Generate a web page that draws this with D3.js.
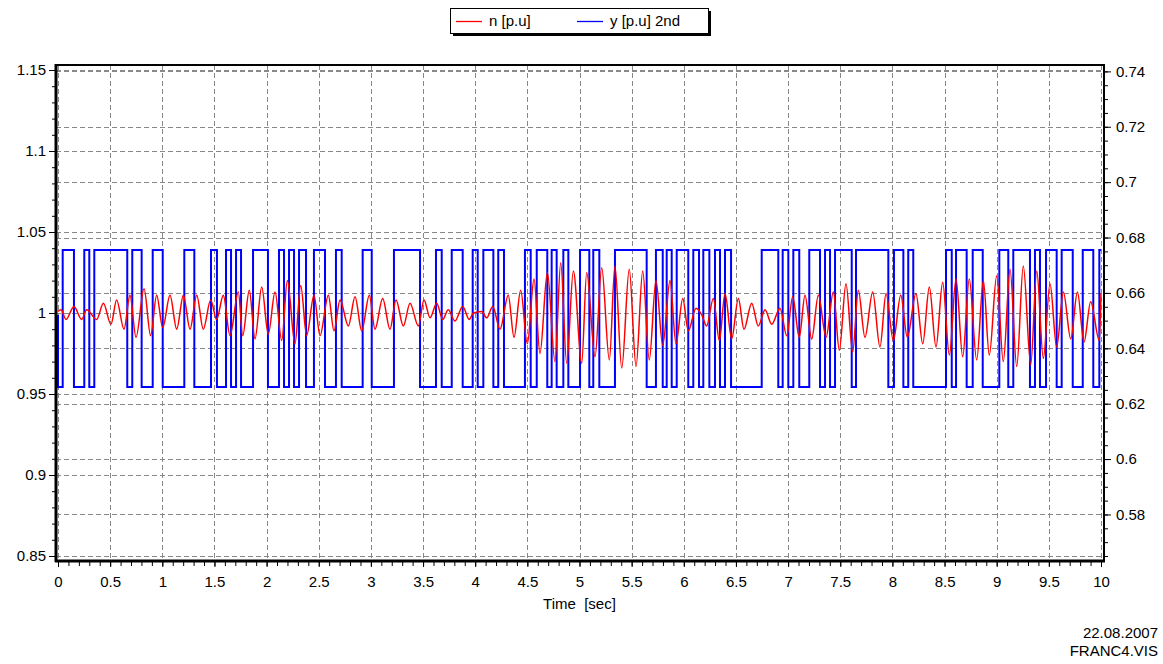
<!DOCTYPE html>
<html>
<head>
<meta charset="utf-8">
<script src="https://cdn.jsdelivr.net/npm/d3@7"></script>
<style>
  body { margin: 0; background: #fff; }
  svg { display: block; }
  text { font-family: Arial, "Liberation Sans", sans-serif; }
</style>
</head>
<body>
<svg id="chart" width="1163" height="664"></svg>
<script>
// tick labels
var timeTicks = [0, 0.5, 1, 1.5, 2, 2.5, 3, 3.5, 4, 4.5, 5, 5.5, 6, 6.5, 7, 7.5, 8, 8.5, 9, 9.5, 10];
var leftTicks = [0.85, 0.9, 0.95, 1, 1.05, 1.1, 1.15];
var rightTicks = [0.58, 0.6, 0.62, 0.64, 0.66, 0.68, 0.7, 0.72, 0.74];

// n [p.u] (turning points)
var nTime = [0.000, 0.029, 0.077, 0.153, 0.227, 0.275, 0.371, 0.435, 0.508, 0.562, 0.633, 0.690, 0.748, 0.825, 0.888, 0.946,
  1.004, 1.074, 1.138, 1.202, 1.266, 1.330, 1.393, 1.464, 1.521, 1.585, 1.649, 1.729, 1.771, 1.834, 1.889, 1.953,
  2.016, 2.081, 2.145, 2.199, 2.272, 2.327, 2.384, 2.454, 2.512, 2.592, 2.646, 2.704, 2.784, 2.848, 2.912, 2.985,
  3.039, 3.113, 3.183, 3.241, 3.311, 3.375, 3.455, 3.509, 3.567, 3.631, 3.688, 3.742, 3.806, 3.880, 3.943, 3.982,
  4.062, 4.110, 4.168, 4.238, 4.317, 4.372, 4.436, 4.500, 4.564, 4.621, 4.692, 4.765, 4.820, 4.877, 4.941,
  5.021, 5.069, 5.149, 5.213, 5.286, 5.340, 5.405, 5.477, 5.542, 5.606, 5.669, 5.733, 5.798, 5.868, 5.925, 5.990,
  6.043, 6.117, 6.171, 6.219, 6.283, 6.341, 6.395, 6.459, 6.523, 6.577, 6.651, 6.714, 6.779, 6.843, 6.922, 6.987,
  7.044, 7.107, 7.162, 7.226, 7.290, 7.364, 7.434, 7.491, 7.555, 7.619, 7.673, 7.737, 7.811, 7.881, 7.939,
  8.009, 8.080, 8.143, 8.226, 8.291, 8.354, 8.418, 8.482, 8.546, 8.610, 8.674, 8.737, 8.808, 8.872, 8.929,
  9.000, 9.063, 9.128, 9.192, 9.255, 9.326, 9.384, 9.447, 9.511, 9.575, 9.639, 9.710, 9.774, 9.837, 9.901, 9.984, 10.000];
var nValue = [1.001, 1.002, 0.996, 1.004, 0.996, 1.002, 0.996, 1.006, 0.993, 1.008, 0.990, 1.011, 0.985, 1.015, 0.986, 1.011,
  0.991, 1.011, 0.990, 1.011, 0.990, 1.011, 0.990, 1.008, 0.996, 1.011, 0.986, 1.013, 0.986, 1.014, 0.984, 1.016,
  0.987, 1.013, 0.983, 1.020, 0.981, 1.017, 0.986, 1.011, 0.986, 1.011, 0.989, 1.008, 0.992, 1.010, 0.989, 1.011,
  0.990, 1.009, 0.990, 1.008, 0.992, 1.006, 0.992, 1.008, 0.997, 1.006, 0.996, 1.002, 0.995, 1.004, 0.996, 1.000,
  1.001, 0.997, 1.004, 0.990, 1.011, 0.985, 1.014, 0.981, 1.021, 0.975, 1.025, 0.970, 1.031, 0.969, 1.026,
  0.969, 1.025, 0.973, 1.028, 0.971, 1.029, 0.966, 1.027, 0.967, 1.026, 0.971, 1.020, 0.980, 1.020, 0.981, 1.009,
  0.989, 1.003, 0.999, 0.992, 1.009, 0.983, 1.012, 0.984, 1.009, 0.990, 1.006, 0.992, 1.002, 0.993, 1.003, 0.986,
  1.010, 0.985, 1.011, 0.984, 1.011, 0.985, 1.013, 0.977, 1.018, 0.976, 1.014, 0.985, 1.013, 0.979, 1.012,
  0.983, 1.011, 0.985, 1.012, 0.981, 1.016, 0.979, 1.019, 0.974, 1.021, 0.973, 1.021, 0.971, 1.020, 0.974,
  1.023, 0.970, 1.027, 0.967, 1.029, 0.968, 1.026, 0.972, 1.018, 0.979, 1.013, 0.984, 1.013, 0.982, 1.007, 0.983, 1.012];

// y [p.u] 2nd - two-level signal, times where it switches (first switch goes high)
var yStart = 0.652, yLow = 0.626, yHigh = 0.6755;
var ySwitch = [0.045, 0.153, 0.252, 0.300, 0.348, 0.664, 0.712, 0.802, 0.908, 1.004, 1.211, 1.307, 1.467, 1.524,
  1.611, 1.659, 1.707, 1.755, 1.870, 2.013, 2.119, 2.167, 2.215, 2.263, 2.311, 2.378, 2.454, 2.560, 2.665, 2.720,
  2.921, 3.008, 3.221, 3.471, 3.624, 3.679, 3.775, 3.880, 3.976, 4.024, 4.078, 4.174, 4.221, 4.276, 4.477, 4.532,
  4.590, 4.691, 4.733, 4.781, 4.845, 4.893, 5.005, 5.094, 5.132, 5.190, 5.340, 5.644, 5.733, 5.798, 5.836, 5.884,
  5.932, 6.043, 6.091, 6.146, 6.187, 6.245, 6.299, 6.347, 6.395, 6.453, 6.747, 6.906, 6.948, 7.002, 7.050, 7.107,
  7.203, 7.306, 7.354, 7.402, 7.450, 7.610, 7.651, 7.961, 8.015, 8.105, 8.152, 8.200, 8.514, 8.569, 8.610, 8.712,
  8.770, 8.866, 9.025, 9.111, 9.159, 9.319, 9.367, 9.415, 9.473, 9.575, 9.623, 9.729, 9.825, 9.926, 9.984];

var svg = d3.select("#chart");

var frame = {left: 56, right: 1104, top: 65, bottom: 561};

var x = d3.scaleLinear().domain([0, 10]).range([58, 1101]);
var yL = d3.scaleLinear().domain([0.85, 1.15]).range([556, 70]);
var yR = d3.scaleLinear().domain([0.565, 0.7405]).range([556, 70]);

var gridColor = "#888";

// grid
var grid = svg.append("g").attr("stroke", gridColor).attr("stroke-dasharray", "5,3").attr("stroke-width", 1);
grid.selectAll(".gx").data(timeTicks).enter().append("line")
  .attr("x1", function (d) { return Math.round(x(d)) + 0.5; })
  .attr("x2", function (d) { return Math.round(x(d)) + 0.5; })
  .attr("y1", frame.top).attr("y2", frame.bottom);
grid.selectAll(".gl").data(leftTicks).enter().append("line")
  .attr("x1", frame.left).attr("x2", frame.right)
  .attr("y1", function (d) { return Math.round(yL(d)) + 0.5; })
  .attr("y2", function (d) { return Math.round(yL(d)) + 0.5; });
grid.selectAll(".gr").data(rightTicks).enter().append("line")
  .attr("x1", frame.left).attr("x2", frame.right)
  .attr("y1", function (d) { return Math.round(yR(d)) + 0.5; })
  .attr("y2", function (d) { return Math.round(yR(d)) + 0.5; });

// series
var nData = nTime.map(function (t, i) { return [t, nValue[i]]; });

var yData = [[0, yStart], [0, yLow]];
ySwitch.forEach(function (t, i) { yData.push([t, i % 2 === 0 ? yHigh : yLow]); });
yData.push([10, ySwitch.length % 2 === 1 ? yHigh : yLow]);

var plot = svg.append("g");
plot.append("path")
  .attr("d", d3.line().x(function (d) { return x(d[0]); }).y(function (d) { return yR(d[1]); }).curve(d3.curveStepAfter)(yData))
  .attr("fill", "none").attr("stroke", "#0000ff").attr("stroke-width", 2);
plot.append("path")
  .attr("d", d3.line().x(function (d) { return x(d[0]); }).y(function (d) { return yL(d[1]); }).curve(d3.curveMonotoneX)(nData))
  .attr("fill", "none").attr("stroke", "#ff0000").attr("stroke-width", 1.5);

// frame
svg.append("rect")
  .attr("x", frame.left).attr("y", frame.top)
  .attr("width", frame.right - frame.left).attr("height", frame.bottom - frame.top)
  .attr("fill", "none").attr("stroke", "#000").attr("stroke-width", 2);
svg.append("line").attr("x1", frame.left).attr("x2", frame.left).attr("y1", frame.top - 1).attr("y2", frame.bottom + 1)
  .attr("stroke", "#000").attr("stroke-width", 3);
svg.append("line").attr("x1", frame.left - 1).attr("x2", frame.right + 1).attr("y1", frame.bottom).attr("y2", frame.bottom)
  .attr("stroke", "#000").attr("stroke-width", 3);

// axes
function style(g) {
  g.select(".domain").remove();
  g.selectAll("line").attr("stroke", "#000");
  g.selectAll("text").attr("fill", "#000").style("font-size", "15px");
}

svg.append("g").attr("transform", "translate(0," + (frame.bottom + 1) + ")")
  .call(d3.axisBottom(x).ticks(100).tickSize(4).tickFormat("")).call(style);
svg.append("g").attr("transform", "translate(0," + (frame.bottom + 1) + ")")
  .call(d3.axisBottom(x).tickValues(timeTicks).tickSize(5).tickPadding(9).tickFormat(d3.format(""))).call(style);

svg.append("g").attr("transform", "translate(" + (frame.left - 1) + ",0)")
  .call(d3.axisLeft(yL).ticks(30).tickSize(3).tickFormat("")).call(style);
svg.append("g").attr("transform", "translate(" + (frame.left - 1) + ",0)")
  .call(d3.axisLeft(yL).tickValues(leftTicks).tickSize(6).tickPadding(3).tickFormat(d3.format(""))).call(style);

svg.append("g").attr("transform", "translate(" + (frame.right + 1) + ",0)")
  .call(d3.axisRight(yR).ticks(35).tickSize(3).tickFormat("")).call(style);
svg.append("g").attr("transform", "translate(" + (frame.right + 1) + ",0)")
  .call(d3.axisRight(yR).tickValues(rightTicks).tickSize(6).tickPadding(5).tickFormat(d3.format(""))).call(style);

svg.append("text").attr("x", x(5)).attr("y", 609).attr("text-anchor", "middle")
  .style("font-size", "15px").attr("xml:space", "preserve").text("Time  [sec]");

svg.append("text").attr("x", 1158).attr("y", 638).attr("text-anchor", "end").style("font-size", "15px").text("22.08.2007");
svg.append("text").attr("x", 1158).attr("y", 656).attr("text-anchor", "end").style("font-size", "15px").text("FRANC4.VIS");

// legend
var lg = svg.append("g");
lg.append("rect").attr("x", 453).attr("y", 11).attr("width", 258).attr("height", 25).attr("fill", "#000");
lg.append("rect").attr("x", 450.5).attr("y", 8.5).attr("width", 258).attr("height", 25)
  .attr("fill", "#fff").attr("stroke", "#000");
var items = [{label: "n [p.u]", color: "#ff0000", x: 456}, {label: "y [p.u] 2nd", color: "#0000ff", x: 577}];
items.forEach(function (it) {
  lg.append("line").attr("x1", it.x).attr("x2", it.x + 26).attr("y1", 21.5).attr("y2", 21.5)
    .attr("stroke", it.color).attr("stroke-width", 1.3);
  lg.append("text").attr("x", it.x + 33).attr("y", 26).style("font-size", "15px").text(it.label);
});
</script>
</body>
</html>
